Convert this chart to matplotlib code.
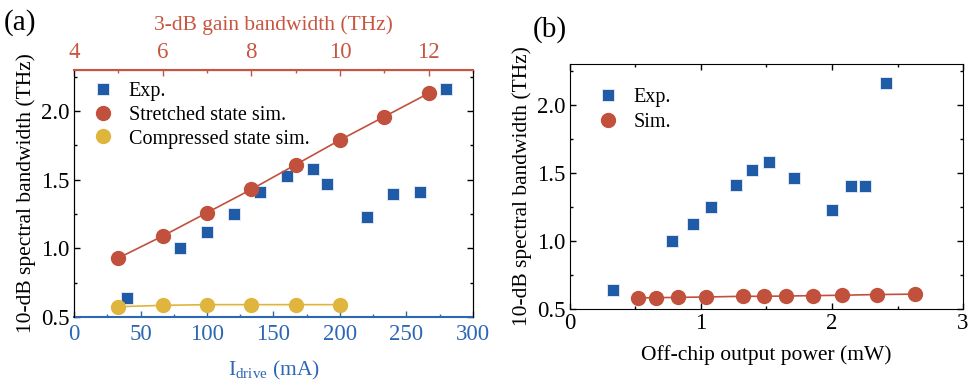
import numpy as np
import matplotlib
matplotlib.use("Agg")
import matplotlib.pyplot as plt
from matplotlib.ticker import MultipleLocator

plt.rcParams['font.family'] = ['Liberation Serif', 'DejaVu Serif']
plt.rcParams['mathtext.fontset'] = 'custom'
plt.rcParams['mathtext.rm'] = 'Liberation Serif'
plt.rcParams['mathtext.it'] = 'Liberation Serif:italic'

BLUE = '#1f5ba6'
RED = '#c1513d'
YELLOW = '#e0b53e'
AXBLUE = '#2c67b4'
AXRED = '#c8553f'

# (a) experiment vs drive current
drive_ma = [40, 80, 100, 120, 140, 160, 180, 190, 220, 240, 260, 280]
exp_bw_a = [0.64, 1.00, 1.12, 1.25, 1.41, 1.53, 1.58, 1.47, 1.23, 1.40, 1.41, 2.16]

# (a) simulations vs 3-dB gain bandwidth
gain_bw_str = [5, 6, 7, 8, 9, 10, 11, 12]
str_bw = [0.93, 1.09, 1.26, 1.43, 1.61, 1.79, 1.96, 2.13]
gain_bw_cmp = [5, 6, 7, 8, 9, 10]
cmp_bw = [0.575, 0.585, 0.59, 0.59, 0.59, 0.59]

# (b) vs off-chip output power
power_exp = [0.33, 0.78, 0.94, 1.08, 1.27, 1.39, 1.52, 1.71, 2.00, 2.145, 2.25, 2.41]
exp_bw_b = [0.635, 1.00, 1.12, 1.25, 1.41, 1.52, 1.58, 1.465, 1.23, 1.405, 1.405, 2.165]
power_sim = [0.52, 0.655, 0.825, 1.04, 1.32, 1.48, 1.65, 1.855, 2.08, 2.34, 2.63]
sim_bw_b = [0.578, 0.58, 0.582, 0.585, 0.59, 0.59, 0.592, 0.595, 0.598, 0.603, 0.606]

fig = plt.figure(figsize=(9.7, 3.85), dpi=100)
ax1 = fig.add_axes([0.0763, 0.1766, 0.4113, 0.6416])
ax2 = fig.add_axes([0.5876, 0.1987, 0.4052, 0.6338])

TICK_FS = 16.5
LAB_FS = 15.5
LEG_FS = 14.5

def style_ticks(ax):
    ax.tick_params(which='both', direction='in', labelsize=TICK_FS)
    ax.tick_params(which='major', length=4, width=1)
    ax.tick_params(which='minor', length=2.5, width=1)

# ---- panel (a)
ax1.plot(drive_ma, exp_bw_a, 's', color=BLUE, ms=9, mec='#e8eef8', mew=0.6,
         label='Exp.', zorder=3)
ax1.set_xlim(0, 300)
ax1.set_ylim(0.5, 2.3)
ax1.xaxis.set_major_locator(MultipleLocator(50))
ax1.xaxis.set_minor_locator(MultipleLocator(25))
ax1.yaxis.set_major_locator(MultipleLocator(0.5))
ax1.yaxis.set_minor_locator(MultipleLocator(0.25))
style_ticks(ax1)
ax1.tick_params(axis='x', which='both', colors=AXBLUE, labelcolor=AXBLUE, pad=5)
ax1.tick_params(axis='y', which='both', right=True, pad=3)
ax1.spines['bottom'].set_color(AXBLUE)
ax1.spines['bottom'].set_linewidth(1.5)
ax1.set_xlabel(r'I$_{\rm drive}$ (mA)', color=AXBLUE, fontsize=LAB_FS, labelpad=10)
ax1.set_ylabel('10-dB spectral bandwidth (THz)', fontsize=LAB_FS, labelpad=4)

top = ax1.twiny()
top.set_xlim(4, 13)
top.plot(gain_bw_str, str_bw, '-o', color=RED, ms=10, lw=1.2,
         label='Stretched state sim.', zorder=3)
top.plot(gain_bw_cmp, cmp_bw, '-o', color=YELLOW, ms=10, lw=1.2,
         label='Compressed state sim.', zorder=3)
top.xaxis.set_major_locator(MultipleLocator(2))
top.xaxis.set_minor_locator(MultipleLocator(1))
top.tick_params(axis='x', which='both', direction='in', colors=AXRED,
                labelcolor=AXRED, labelsize=TICK_FS, length=4, width=1, pad=5)
top.tick_params(axis='x', which='minor', length=2.5)
top.spines['top'].set_color(AXRED)
top.spines['top'].set_linewidth(1.5)
top.spines['bottom'].set_visible(False)
top.set_xlabel('3-dB gain bandwidth (THz)', color=AXRED, fontsize=LAB_FS, labelpad=9)

h1, l1 = ax1.get_legend_handles_labels()
h2, l2 = top.get_legend_handles_labels()
leg = top.legend(h1 + h2, l1 + l2, loc='upper left', frameon=False,
                 fontsize=LEG_FS, handlelength=1.0, handletextpad=0.75,
                 labelspacing=0.22, borderaxespad=0.3,
                 bbox_to_anchor=(0.013, 1.007))
for h in leg.legend_handles:
    h.set_linestyle('none')

fig.text(0.004, 0.922, '(a)', fontsize=21)

# ---- panel (b)
ax2.plot(power_exp, exp_bw_b, 's', color=BLUE, ms=9, mec='#e8eef8', mew=0.6,
         label='Exp.', zorder=3)
ax2.plot(power_sim, sim_bw_b, '-o', color=RED, ms=10, lw=1.2,
         label='Sim.', zorder=3)
ax2.set_xlim(0, 3)
ax2.set_ylim(0.5, 2.3)
ax2.xaxis.set_major_locator(MultipleLocator(1))
ax2.xaxis.set_minor_locator(MultipleLocator(0.5))
ax2.yaxis.set_major_locator(MultipleLocator(0.5))
ax2.yaxis.set_minor_locator(MultipleLocator(0.25))
style_ticks(ax2)
ax2.tick_params(which='both', top=True, right=True)
ax2.tick_params(axis='y', pad=3)
ax2.set_xlabel('Off-chip output power (mW)', fontsize=LAB_FS, labelpad=8)
ax2.set_ylabel('10-dB spectral bandwidth (THz)', fontsize=LAB_FS, labelpad=4)
leg2 = ax2.legend(loc='upper left', frameon=False, fontsize=LEG_FS,
                  handlelength=1.0, handletextpad=0.75, labelspacing=0.3,
                  bbox_to_anchor=(0.025, 0.98))
for h in leg2.legend_handles:
    h.set_linestyle('none')

fig.text(0.549, 0.905, '(b)', fontsize=21)

fig.savefig('out.png', dpi=100)
